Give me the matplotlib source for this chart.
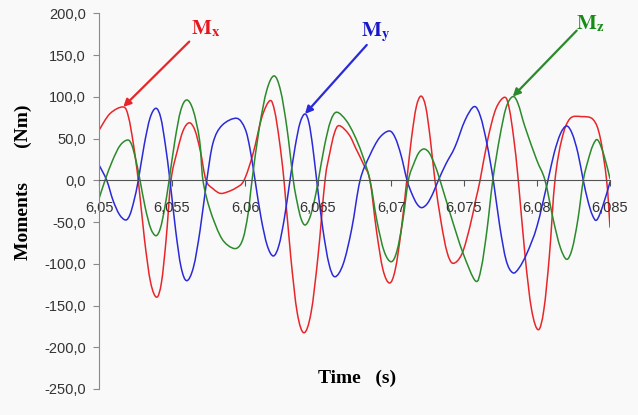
import matplotlib
matplotlib.use('Agg')
import matplotlib.pyplot as plt
from matplotlib.patches import PathPatch
from matplotlib.path import Path
from matplotlib.ticker import FuncFormatter, MultipleLocator

# Time (s) and moments (Nm)
t_mx = [6.05000, 6.05075, 6.05166, 6.05201, 6.05235, 6.05269, 6.05311, 6.05353, 6.05395, 6.05428,
        6.05460, 6.05493, 6.05535, 6.05577, 6.05619, 6.05657, 6.05695, 6.05733, 6.05781, 6.05829,
        6.05877, 6.05938, 6.05993, 6.06055, 6.06116, 6.06171, 6.06203, 6.06235, 6.06267, 6.06313,
        6.06358, 6.06404, 6.06452, 6.06500, 6.06548, 6.06581, 6.06613, 6.06646, 6.06712, 6.06760,
        6.06815, 6.06856, 6.06901, 6.06945, 6.06990, 6.07029, 6.07069, 6.07108, 6.07140, 6.07173,
        6.07206, 6.07238, 6.07269, 6.07301, 6.07343, 6.07384, 6.07425, 6.07486, 6.07541, 6.07582,
        6.07610, 6.07664, 6.07719, 6.07779, 6.07810, 6.07841, 6.07872, 6.07918, 6.07963, 6.08009,
        6.08047, 6.08085, 6.08123, 6.08171, 6.08226, 6.08306, 6.08384, 6.08432, 6.08477, 6.08500]
mx = [60, 80, 88, 76.6, 44, 0, -70, -122, -140, -122,
      -70, 0, 34.5, 60, 69, 60, 34.5, 0, -10, -15.5,
      -14, -9, 0, 32, 76, 95.6, 83, 48, 0, -91,
      -159, -182.6, -159, -91, 0, 33, 57, 65.6, 55, 38,
      18, 0, -61, -107, -123, -107, -61, 0, 50, 88,
      101, 88, 50, 0, -50, -86, -99.4, -88, -55, -22,
      0, 50, 86, 99.6, 86, 50, 0, -90, -155, -179,
      -155, -90, 0, 50, 74, 76.4, 73, 52, 0, -56]

t_my = [6.05000, 6.05053, 6.05096, 6.05140, 6.05183, 6.05212, 6.05240, 6.05269, 6.05310, 6.05350,
        6.05390, 6.05423, 6.05454, 6.05486, 6.05525, 6.05562, 6.05601, 6.05647, 6.05692, 6.05738,
        6.05781, 6.05843, 6.05943, 6.06000, 6.06034, 6.06069, 6.06110, 6.06152, 6.06194, 6.06232,
        6.06270, 6.06308, 6.06343, 6.06377, 6.06411, 6.06438, 6.06464, 6.06491, 6.06533, 6.06575,
        6.06616, 6.06673, 6.06731, 6.06788, 6.06855, 6.06921, 6.06988, 6.07029, 6.07069, 6.07110,
        6.07143, 6.07177, 6.07210, 6.07248, 6.07286, 6.07324, 6.07377, 6.07438, 6.07507, 6.07569,
        6.07612, 6.07657, 6.07701, 6.07745, 6.07789, 6.07834, 6.07877, 6.07932, 6.08000, 6.08075,
        6.08118, 6.08161, 6.08203, 6.08241, 6.08280, 6.08317, 6.08348, 6.08378, 6.08409, 6.08452,
        6.08500]
my = [18.5, 0, -24, -41, -47.5, -41, -24, 0, 43, 75,
      86.4, 75, 43, 0, -60, -104, -120.2, -104, -60, 0,
      45, 66, 74.4, 62, 38, 0, -45, -78, -90.6, -78,
      -45, 0, 40, 69, 79.6, 69, 40, 0, -58, -100,
      -115.5, -100, -58, 0, 30, 51, 59.2, 51, 30, 0,
      -16, -28, -32.7, -28, -16, 0, 20, 40, 72, 88.4,
      77, 44, 0, -55, -96, -110.7, -105, -87, -55, 0,
      33, 56, 65.2, 56, 33, 0, -24, -41, -47.5, -30,
      -2]

t_mz = [6.05000, 6.05041, 6.05093, 6.05145, 6.05197, 6.05225, 6.05253, 6.05281, 6.05317, 6.05354,
        6.05390, 6.05420, 6.05450, 6.05480, 6.05520, 6.05560, 6.05601, 6.05645, 6.05689, 6.05712,
        6.05760, 6.05829, 6.05884, 6.05943, 6.05986, 6.06021, 6.06048, 6.06098, 6.06149, 6.06199,
        6.06243, 6.06287, 6.06331, 6.06358, 6.06384, 6.06411, 6.06441, 6.06472, 6.06502, 6.06544,
        6.06586, 6.06628, 6.06692, 6.06747, 6.06801, 6.06856, 6.06904, 6.06953, 6.07001, 6.07040,
        6.07080, 6.07119, 6.07154, 6.07190, 6.07226, 6.07262, 6.07299, 6.07336, 6.07418, 6.07493,
        6.07579, 6.07618, 6.07657, 6.07697, 6.07743, 6.07788, 6.07834, 6.07870, 6.07918, 6.07998,
        6.08055, 6.08112, 6.08158, 6.08203, 6.08241, 6.08280, 6.08317, 6.08350, 6.08383, 6.08416,
        6.08459, 6.08500]
mz = [-22, 0, 24, 42, 48.4, 42, 24, 0, -33, -57.5,
      -66.3, -57.5, -33, 0, 48, 84, 96.4, 84, 48, 0,
      -35, -66, -78, -81.4, -70, -40, 0, 63, 108, 125.2,
      108, 63, 0, -27, -46, -53.5, -46, -27, 0, 41,
      71, 81.7, 72, 55, 32, 0, -49, -85, -97.5, -85,
      -49, 0, 19, 33, 37.6, 33, 19, 0, -47, -87,
      -120.6, -105, -60, 0, 50, 87, 100.4, 92, 64, 24.5,
      0, -47.5, -79.5, -94.6, -82, -47, 0, 24, 42, 48.4,
      30, 2]

RED = '#e8262a'
BLUE = '#2a2ad8'
GREEN = '#2b8a2b'


def smooth_line(ax, xs, ys, color):
    """Draw the series as an Excel-style smoothed line (bezier through every data point)."""
    pts = list(zip(xs, ys))
    verts = [pts[0]]
    codes = [Path.MOVETO]
    for i in range(len(pts) - 1):
        p0 = pts[max(i - 1, 0)]
        p1 = pts[i]
        p2 = pts[i + 1]
        p3 = pts[min(i + 2, len(pts) - 1)]
        c1 = (p1[0] + (p2[0] - p0[0]) / 6, p1[1] + (p2[1] - p0[1]) / 6)
        c2 = (p2[0] - (p3[0] - p1[0]) / 6, p2[1] - (p3[1] - p1[1]) / 6)
        verts += [c1, c2, p2]
        codes += [Path.CURVE4] * 3
    ax.add_patch(PathPatch(Path(verts, codes), fill=False, edgecolor=color, lw=1.1,
                           capstyle='round', joinstyle='round'))


plt.rcParams['mathtext.fontset'] = 'stix'

fig = plt.figure(figsize=(6.38, 4.15), dpi=100, facecolor='#f9f9f9')
ax = fig.add_axes([0.1552, 0.0627, 0.8009, 0.9048])
ax.set_facecolor('none')

smooth_line(ax, t_mx, mx, RED)
smooth_line(ax, t_my, my, BLUE)
smooth_line(ax, t_mz, mz, GREEN)

ax.set_xlim(6.05, 6.085)
ax.set_ylim(-250, 200)

for side in ('top', 'right'):
    ax.spines[side].set_visible(False)
ax.spines['bottom'].set_position(('data', 0))
ax.spines['bottom'].set_color('#555555')
ax.spines['left'].set_color('#8a8a8a')

ax.xaxis.set_major_locator(MultipleLocator(0.005))
ax.yaxis.set_major_locator(MultipleLocator(50))
ax.xaxis.set_major_formatter(FuncFormatter(lambda v, _: f'{v:.3f}'.rstrip('0').rstrip('.').replace('.', ',')))
ax.yaxis.set_major_formatter(FuncFormatter(lambda v, _: f'{v:.1f}'.replace('.', ',')))
ax.tick_params(axis='x', direction='out', length=4, pad=11, colors='#555555',
               labelcolor='#333333', labelsize=10.5)
ax.tick_params(axis='y', direction='out', length=4.5, pad=5, colors='#8a8a8a',
               labelcolor='#333333', labelsize=10.5)
for lab in ax.get_xticklabels() + ax.get_yticklabels():
    lab.set_fontfamily('Liberation Sans')

fig.text(0.036, 0.562, 'Moments       (Nm)', rotation=90, ha='center', va='center',
         family='Liberation Serif', weight='bold', fontsize=14)
fig.text(0.56, 0.089, 'Time   (s)', ha='center', va='center',
         family='Liberation Serif', weight='bold', fontsize=14)

# labels with arrows pointing at a peak of each curve
arrow = dict(arrowstyle='-|>', lw=1.6, mutation_scale=11, shrinkA=0, shrinkB=0)
ax.annotate('', xy=(t_mx[2], mx[2]), xytext=(6.05618, 166.3), arrowprops=dict(arrow, color=RED))
ax.annotate('', xy=(t_my[34], my[34]), xytext=(6.06834, 162.3), arrowprops=dict(arrow, color=BLUE))
ax.annotate('', xy=(t_mz[66], mz[66]), xytext=(6.08272, 179.5), arrowprops=dict(arrow, color=GREEN))

ax.text(6.05733, 181.5, r'$\mathbf{M}_\mathbf{x}$', color='#e8141e', fontsize=15, ha='center', va='center')
ax.text(6.06897, 178.0, r'$\mathbf{M}_\mathbf{y}$', color='#1818c8', fontsize=15, ha='center', va='center')
ax.text(6.08363, 187.5, r'$\mathbf{M}_\mathbf{z}$', color='#168c16', fontsize=15, ha='center', va='center')

fig.savefig('out.png', dpi=100, facecolor=fig.get_facecolor())
